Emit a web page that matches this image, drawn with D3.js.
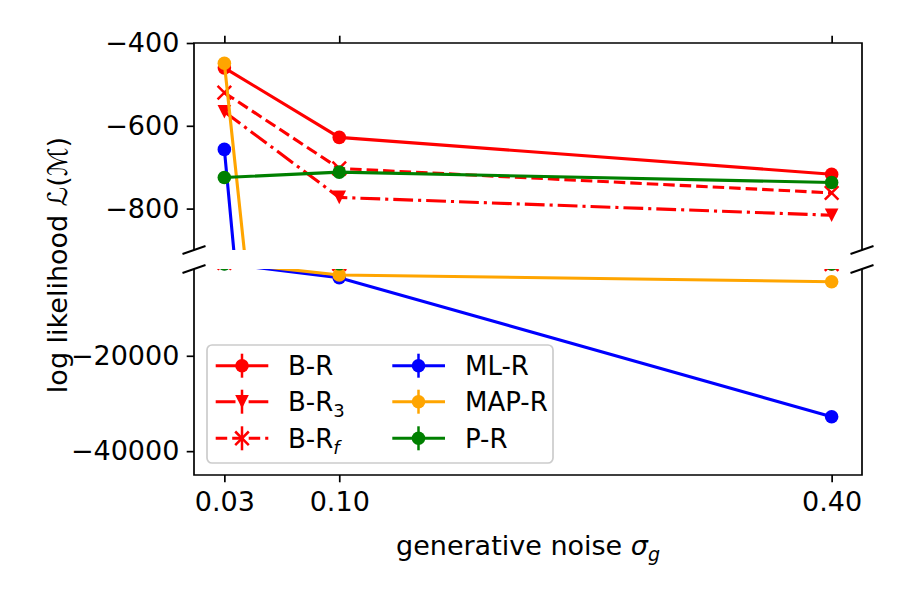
<!DOCTYPE html>
<html>
<head>
<meta charset="utf-8">
<script src="https://cdn.jsdelivr.net/npm/d3@7"></script>
<style>
  body { margin: 0; background: #fff; }
  text { font-family: "DejaVu Sans", sans-serif; fill: #000; }
</style>
</head>
<body>
<div id="chart"></div>
<script>
// data
const sigmas = [0.03, 0.10, 0.40];
const xTickLabels = ["0.03", "0.10", "0.40"];
const bR   = [-460, -628, -717];
const bR3  = [-566, -773, -816];
const bRf  = [-520, -703, -762];
const mlR  = [-657, -3624, -32771];
const mapR = [-449, -3058, -4463];
const pR   = [-725, -712, -737];
const topTicks = [-400, -600, -800];
const bottomTicks = [-20000, -40000];

const width = 900, height = 600;
const xLeft = 194, xRight = 862;
const topBox = {y0: 43, y1: 250};
const botBox = {y0: 269, y1: 475};
const fs = 27;

const svg = d3.select("#chart")
    .append("svg")
    .attr("width", width)
    .attr("height", height);

const x = d3.scaleLinear().domain([0.0115, 0.4185]).range([xLeft, xRight]);
const yTop = d3.scaleLinear().domain([-900, -400]).range([topBox.y1, topBox.y0]);
const yBot = d3.scaleLinear().domain([-45000, -1800]).range([botBox.y1, botBox.y0]);

const series = [
    {name: "B-R",   sub: null, values: bR,   color: "#ff0000", dash: null,             marker: "circle"},
    {name: "B-R",   sub: "3",  values: bR3,  color: "#ff0000", dash: "19.8,5,3.1,5",   marker: "tri"},
    {name: "B-R",   sub: "f",  values: bRf,  color: "#ff0000", dash: "11.5,5",         marker: "x"},
    {name: "ML-R",  sub: null, values: mlR,  color: "#0000ff", dash: null,             marker: "circle"},
    {name: "MAP-R", sub: null, values: mapR, color: "#ffa500", dash: null,             marker: "circle"},
    {name: "P-R",   sub: null, values: pR,   color: "#008000", dash: null,             marker: "circle"}
];

const lw = 3.1;
const ms = 6.8;

function drawMarker(g, type, cx, cy, color) {
    if (type === "circle") {
        g.append("circle").attr("cx", cx).attr("cy", cy).attr("r", ms).attr("fill", color);
    } else if (type === "tri") {
        g.append("path")
            .attr("d", `M${cx - ms},${cy - ms}L${cx + ms},${cy - ms}L${cx},${cy + ms}Z`)
            .attr("fill", color);
    } else {
        g.append("path")
            .attr("d", `M${cx - ms},${cy - ms}L${cx + ms},${cy + ms}M${cx - ms},${cy + ms}L${cx + ms},${cy - ms}`)
            .attr("stroke", color).attr("stroke-width", 2.5).attr("fill", "none");
    }
}

const defs = svg.append("defs");
[["clipTop", topBox], ["clipBot", botBox]].forEach(([id, b]) => {
    defs.append("clipPath").attr("id", id)
        .append("rect")
        .attr("x", xLeft).attr("y", b.y0)
        .attr("width", xRight - xLeft).attr("height", b.y1 - b.y0);
});

function drawPanel(y, clipId) {
    const g = svg.append("g").attr("clip-path", `url(#${clipId})`);
    series.forEach(s => {
        const pts = sigmas.map((sg, i) => [x(sg), y(s.values[i])]);
        g.append("path")
            .attr("d", d3.line()(pts))
            .attr("fill", "none")
            .attr("stroke", s.color)
            .attr("stroke-width", lw)
            .attr("stroke-dasharray", s.dash);
        pts.forEach(p => drawMarker(g, s.marker, p[0], p[1], s.color));
    });
}

drawPanel(yTop, "clipTop");
drawPanel(yBot, "clipBot");

// axes frames
const frame = svg.append("g").attr("stroke", "#000").attr("stroke-width", 1.7).attr("fill", "none");
frame.append("path").attr("d", `M${xLeft},${topBox.y1}V${topBox.y0}H${xRight}V${topBox.y1}`);
frame.append("path").attr("d", `M${xLeft},${botBox.y0}V${botBox.y1}H${xRight}V${botBox.y0}`);

const minus = d => String(d).replace("-", "\u2212");

// top panel axes
const topLeftAxis = svg.append("g")
    .attr("transform", `translate(${xLeft},0)`)
    .call(d3.axisLeft(yTop).tickValues(topTicks).tickSize(7.3).tickPadding(7.3).tickFormat(minus));
const topXAxis = svg.append("g")
    .attr("transform", `translate(0,${topBox.y0})`)
    .call(d3.axisTop(x).tickValues(sigmas).tickSize(7.3).tickFormat(""));

// bottom panel axes
const botLeftAxis = svg.append("g")
    .attr("transform", `translate(${xLeft},0)`)
    .call(d3.axisLeft(yBot).tickValues(bottomTicks).tickSize(7.3).tickPadding(7.3).tickFormat(minus));
const botXAxis = svg.append("g")
    .attr("transform", `translate(0,${botBox.y1})`)
    .call(d3.axisBottom(x).tickValues(sigmas).tickSize(7.3).tickPadding(10)
        .tickFormat((d, i) => xTickLabels[i]));

[topLeftAxis, topXAxis, botLeftAxis, botXAxis].forEach(a => {
    a.select(".domain").remove();
    a.selectAll(".tick line").attr("stroke", "#000").attr("stroke-width", 1.7);
    a.selectAll(".tick text").style("font-size", fs + "px").attr("fill", "#000")
        .style("font-family", "'DejaVu Sans', sans-serif");
});

// break marks
const brk = svg.append("g").attr("stroke", "#000").attr("stroke-width", 2);
[xLeft, xRight].forEach(xx => {
    [topBox.y1, botBox.y0].forEach(yy => {
        brk.append("line")
            .attr("x1", xx - 11.5).attr("y1", yy + 4)
            .attr("x2", xx + 11.5).attr("y2", yy - 4);
    });
});

// axis labels
svg.append("text")
    .attr("transform", "translate(67,265) rotate(-90)")
    .attr("text-anchor", "middle")
    .style("font-size", fs + "px")
    .text("log likelihood \u2112(\u2133)");

const xl = svg.append("text")
    .attr("x", (xLeft + xRight) / 2)
    .attr("y", 555)
    .attr("text-anchor", "middle")
    .style("font-size", fs + "px");
xl.append("tspan").text("generative noise ");
xl.append("tspan").style("font-style", "italic").text("\u03c3");
xl.append("tspan").style("font-style", "italic").style("font-size", "19px").attr("dy", 6).text("g");

// legend
const legend = svg.append("g");
legend.append("rect")
    .attr("x", 207).attr("y", 345)
    .attr("width", 346).attr("height", 118)
    .attr("rx", 5)
    .attr("fill", "#fff").attr("fill-opacity", 0.8)
    .attr("stroke", "#cccccc").attr("stroke-width", 1.7);

const rowY = [365.7, 401.7, 438.3];
const colX = [{l0: 215.7, l1: 268.3, m: 242, t: 288}, {l0: 392.3, l1: 445, m: 418.5, t: 465}];

series.forEach((s, i) => {
    const col = colX[Math.floor(i / 3)];
    const cy = rowY[i % 3];
    const item = legend.append("g");
    item.append("line")
        .attr("x1", col.l0).attr("x2", col.l1)
        .attr("y1", cy).attr("y2", cy)
        .attr("stroke", s.color).attr("stroke-width", lw)
        .attr("stroke-dasharray", s.dash);
    item.append("line")
        .attr("x1", col.m).attr("x2", col.m)
        .attr("y1", cy - 12).attr("y2", cy + 12)
        .attr("stroke", s.color).attr("stroke-width", 2.5);
    drawMarker(item, s.marker, col.m, cy, s.color);
    const t = item.append("text")
        .attr("x", col.t).attr("y", cy).attr("dy", "0.36em")
        .style("font-size", "26px");
    t.append("tspan").text(s.name);
    if (s.sub) {
        t.append("tspan")
            .attr("dy", 6)
            .style("font-size", "18px")
            .style("font-style", s.sub === "f" ? "italic" : "normal")
            .text(s.sub);
    }
});
</script>
</body>
</html>
